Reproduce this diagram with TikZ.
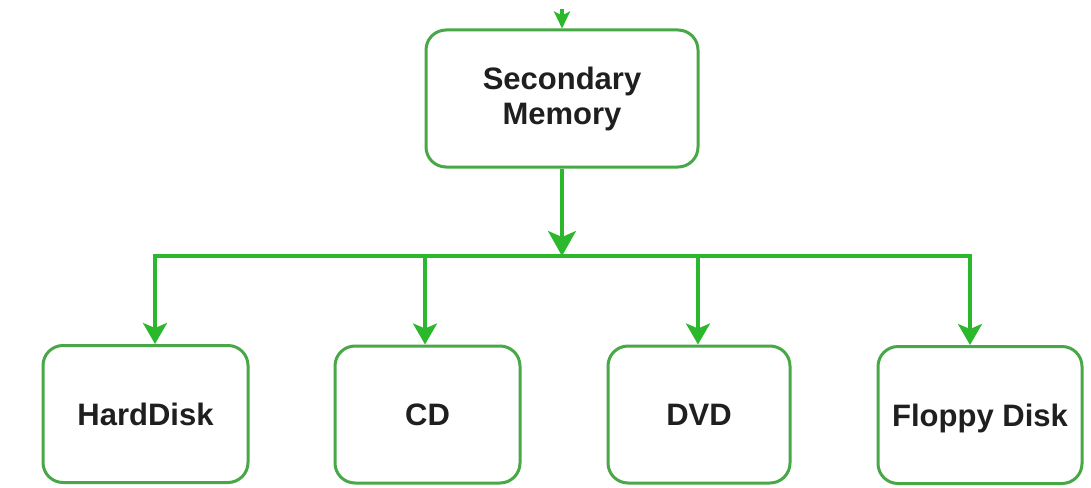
\documentclass[tikz,border=0pt]{standalone}
\usepackage{fontspec}
\setmainfont{Liberation Sans}
\usetikzlibrary{arrows.meta}
\definecolor{boxgreen}{RGB}{72,168,72}
\definecolor{linkgreen}{RGB}{44,184,44}
\tikzset{
  membox/.style={draw=boxgreen, line width=3pt, rounded corners=20pt, fill=white,
    minimum height=137pt, align=center, inner sep=0pt,
    font=\fontsize{31}{35}\selectfont\bfseries, text=black!88},
  leafbox/.style={membox, text height=22pt, text depth=0pt},
  link/.style={draw=linkgreen, line width=3.2pt},
  linkarrow/.style={link, -{Stealth[length=21pt, width=24pt, inset=5pt]}},
}
\begin{document}
\begin{tikzpicture}[x=1pt, y=-1pt]
  \useasboundingbox (0,0) rectangle (1091,487);
  \fill[white] (0,0) rectangle (1091,487);

  % parent node
  \node[membox, minimum width=272pt] (sm) at (562,98.5) {Secondary\\Memory};

  % children
  \node[leafbox, minimum width=205pt] (hd)  at (145.5,414) {HardDisk};
  \node[leafbox, minimum width=185pt] (cd)  at (427.5,414.5) {CD};
  \node[leafbox, minimum width=182pt] (dvd) at (699,414.5) {DVD};
  \node[leafbox, minimum width=204pt] (fd)  at (980,415) {Floppy Disk};

  % incoming link from above
  \coordinate (top) at (562,9);
  \draw[link, -{Stealth[length=17pt, width=16pt, inset=4pt]}] (top) -- (sm.north);

  % distribution bar
  \coordinate (hub) at (562,256);
  \coordinate (b1) at (155,256);
  \coordinate (b2) at (425,256);
  \coordinate (b3) at (698,256);
  \coordinate (b4) at (970,256);

  \draw[link, -{Stealth[length=25pt, width=28pt, inset=6pt]}] (sm.south) -- (hub);
  \draw[link, line cap=rect] (b1) -- (b4);

  \draw[linkarrow] (b1) -- (b1 |- hd.north);
  \draw[linkarrow] (b2) -- (b2 |- cd.north);
  \draw[linkarrow] (b3) -- (b3 |- dvd.north);
  \draw[linkarrow] (b4) -- (b4 |- fd.north);
\end{tikzpicture}
\end{document}
